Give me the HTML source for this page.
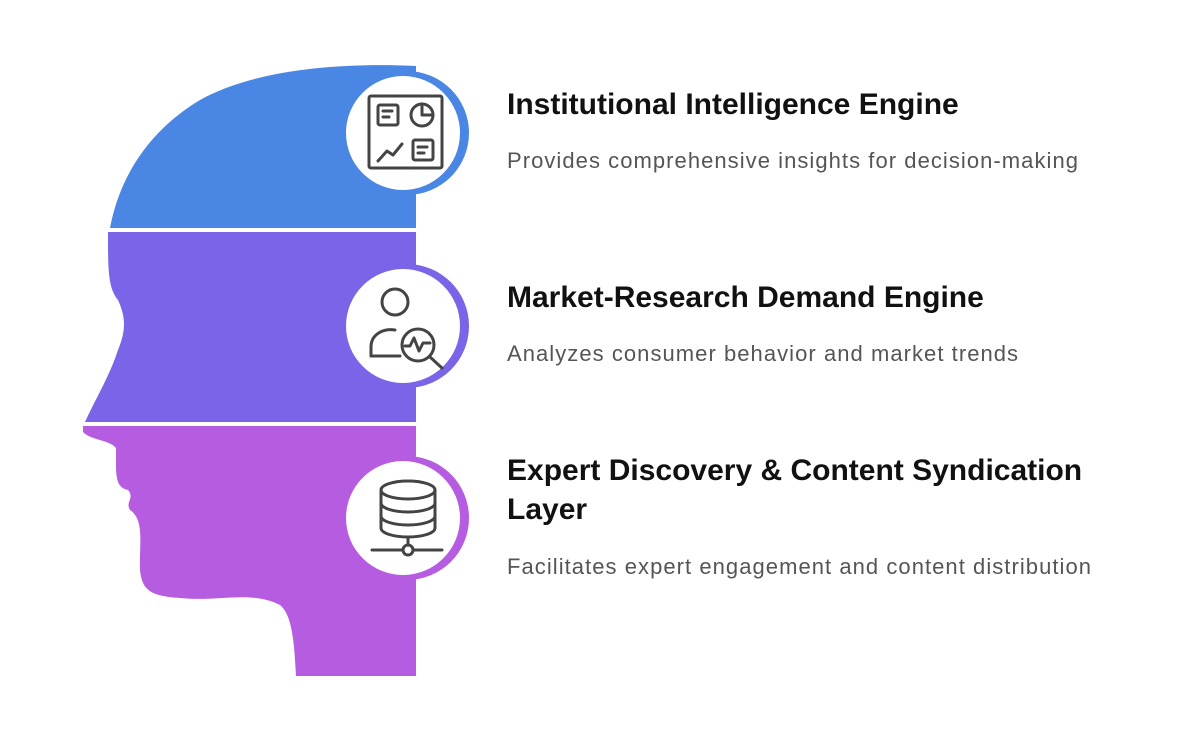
<!DOCTYPE html>
<html><head><meta charset="utf-8"><style>
body{margin:0;width:1200px;height:744px;background:#fff;position:relative;font-family:"Liberation Sans",Arial,sans-serif;overflow:hidden}
.t{position:absolute;left:507px;font-weight:bold;font-size:30px;letter-spacing:0px;color:#111;line-height:39px}
.d{position:absolute;left:507px;font-size:22px;letter-spacing:1.05px;color:#555}
</style></head><body>
<svg width="1200" height="744" style="position:absolute;left:0;top:0">
<path d="M110,228 C120,175 150,130 200,100 C250,72 330,62 416,66 L416,228 Z" fill="#4a86e3"/>
<path d="M108,232 L416,232 L416,422 L85,422 C95,400 110,375 118,350 C126,330 126,318 118,300 C108,288 108,270 108,232 Z" fill="#7b64e7"/>
<path d="M83,426 L416,426 L416,676 L296,676 C294,640 292,615 280,605 C250,590 220,602 180,598 C150,596 142,590 140,570 C139,545 145,520 130,510 C125,502 135,498 128,490 C118,488 116,480 116,465 L116,448 C110,440 90,440 83,432 Z" fill="#b55ce1"/>
<g fill="#fff">
<circle cx="407" cy="133" r="62" fill="#4a86e3"/><circle cx="403" cy="133" r="57"/>
<circle cx="407" cy="326" r="62" fill="#7b64e7"/><circle cx="403" cy="326" r="57"/>
<circle cx="407" cy="518" r="62" fill="#b55ce1"/><circle cx="403" cy="518" r="57"/>
</g>
<g fill="none" stroke="#444" stroke-width="3" stroke-linecap="round" stroke-linejoin="round">
<rect x="369" y="96" width="73" height="72" rx="2"/>
<rect x="378" y="105" width="20" height="20" rx="2"/><line x1="383" y1="111" x2="392" y2="111"/><line x1="383" y1="117" x2="389" y2="117"/>
<circle cx="422" cy="115" r="11"/><path d="M422,104 V115 H433"/>
<polyline points="378,161 387,151 393,155 402,144"/>
<rect x="413" y="140" width="20" height="20" rx="2"/><line x1="418" y1="147" x2="427" y2="147"/><line x1="418" y1="153" x2="424" y2="153"/>
<circle cx="395" cy="302" r="13"/>
<path d="M371,356 V347 C371,334 384,328 395,330"/><line x1="371" y1="356" x2="400" y2="356"/>
<circle cx="418" cy="345" r="16"/><line x1="430" y1="357" x2="442" y2="368"/>
<polyline points="405,346 410,346 414,338 419,351 423,343 430,343"/>
<ellipse cx="408" cy="490" rx="27" ry="9"/>
<path d="M381,490 V528 C381,533 393,537 408,537 C423,537 435,533 435,528 V490"/>
<path d="M381,503 C381,508 393,512 408,512 C423,512 435,508 435,503"/>
<path d="M381,516 C381,521 393,525 408,525 C423,525 435,521 435,516"/>
<line x1="408" y1="537" x2="408" y2="545"/><circle cx="408" cy="550" r="5"/>
<line x1="372" y1="550" x2="403" y2="550"/><line x1="413" y1="550" x2="442" y2="550"/>
</g>
</svg>
<div class="t" style="top:85px">Institutional Intelligence Engine</div>
<div class="d" style="top:148px">Provides comprehensive insights for decision-making</div>
<div class="t" style="top:278px">Market-Research Demand Engine</div>
<div class="d" style="top:341px">Analyzes consumer behavior and market trends</div>
<div class="t" style="top:451px">Expert Discovery &amp; Content Syndication<br>Layer</div>
<div class="d" style="top:554px">Facilitates expert engagement and content distribution</div>
</body></html>
